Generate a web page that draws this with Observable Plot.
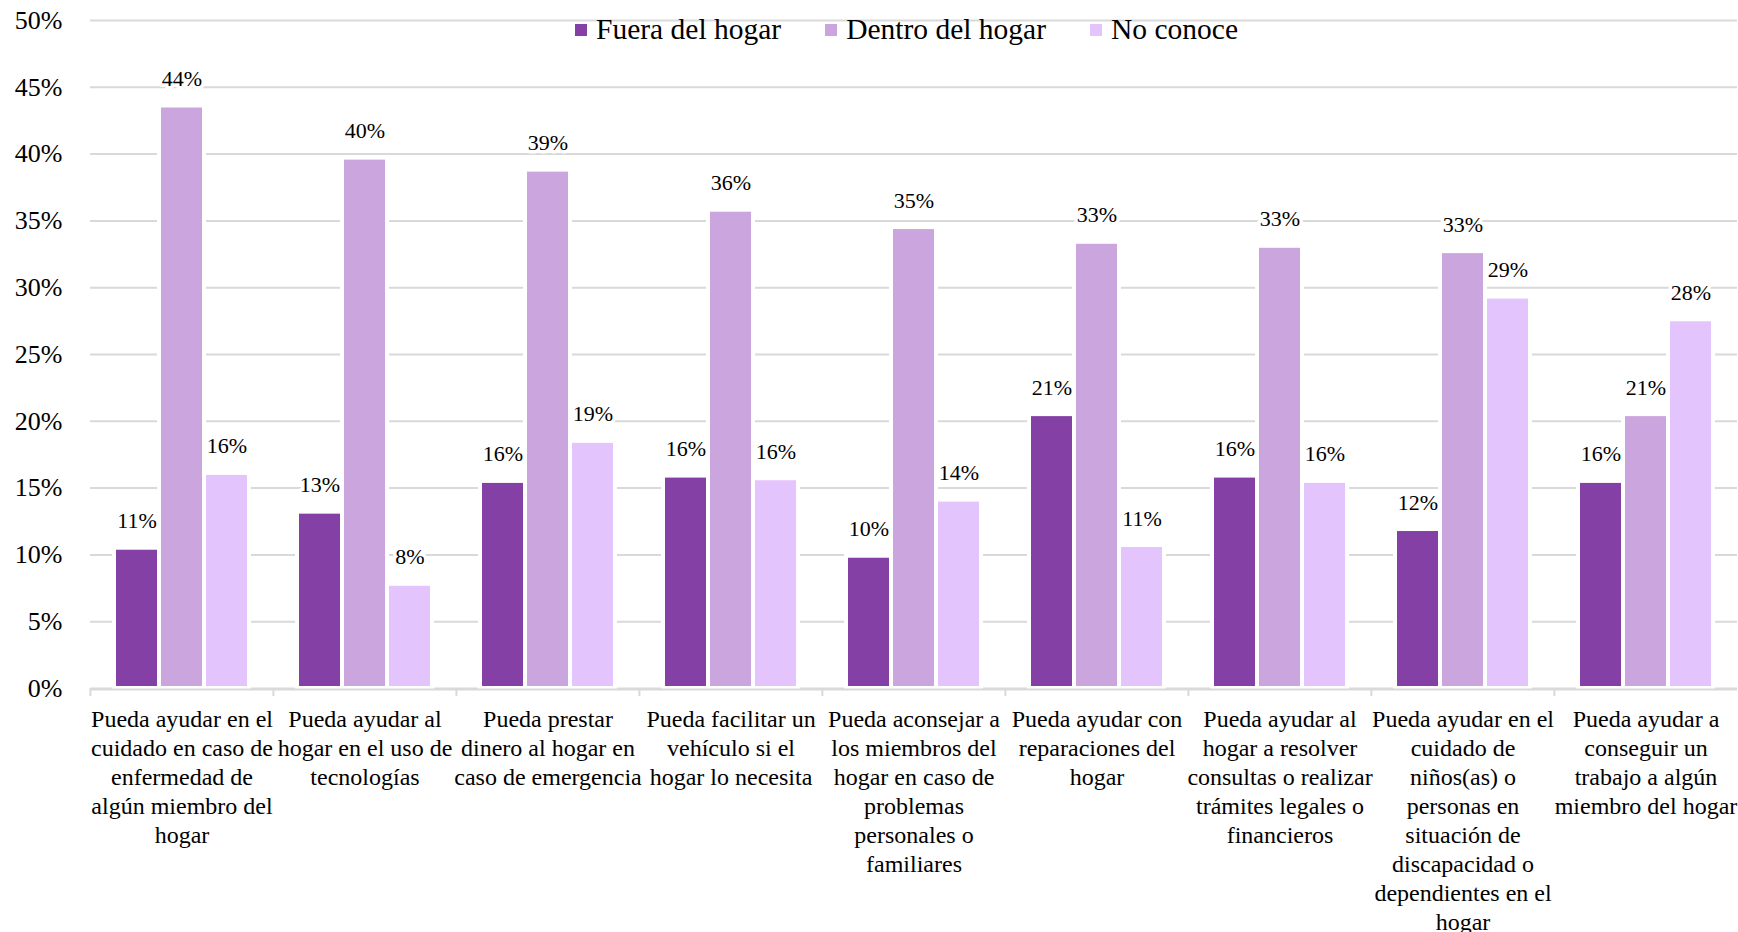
<!DOCTYPE html>
<html>
<head>
<meta charset="utf-8">
<script src="https://cdn.jsdelivr.net/npm/d3@7"></script>
<script src="https://cdn.jsdelivr.net/npm/@observablehq/plot@0.6"></script>
<style>
  html, body { margin: 0; padding: 0; background: #fff; }
  #wrap { position: relative; width: 1738px; height: 932px; overflow: hidden;
          font-family: "Palatino Linotype", Palatino, "Book Antiqua", "Liberation Serif", serif; }
  #legend { position: absolute; top: 15px; left: 75px; right: 0; display: flex; justify-content: center;
            gap: 44px; font-size: 29.5px; color: #000; line-height: 1; }
  .item { display: flex; align-items: center; gap: 9px; }
  .sw { width: 12px; height: 12px; display: inline-block; }
</style>
</head>
<body>
<div id="wrap"><div id="legend"></div></div>
<script>
// ---- data ----
const categories = [
  "Pueda ayudar en el\ncuidado en caso de\nenfermedad de\nalgún miembro del\nhogar",
  "Pueda ayudar al\nhogar en el uso de\ntecnologías",
  "Pueda prestar\ndinero al hogar en\ncaso de emergencia",
  "Pueda facilitar un\nvehículo si el\nhogar lo necesita",
  "Pueda aconsejar a\nlos miembros del\nhogar en caso de\nproblemas\npersonales o\nfamiliares",
  "Pueda ayudar con\nreparaciones del\nhogar",
  "Pueda ayudar al\nhogar a resolver\nconsultas o realizar\ntrámites legales o\nfinancieros",
  "Pueda ayudar en el\ncuidado de\nniños(as) o\npersonas en\nsituación de\ndiscapacidad o\ndependientes en el\nhogar",
  "Pueda ayudar a\nconseguir un\ntrabajo a algún\nmiembro del hogar"
];
const series = ["Fuera del hogar", "Dentro del hogar", "No conoce"];
const fuera    = [10.5, 13.2, 15.5, 15.9,  9.9, 20.5, 15.9, 11.9, 15.5];
const dentro   = [43.6, 39.7, 38.8, 35.8, 34.5, 33.4, 33.1, 32.7, 20.5];
const noConoce = [16.1,  7.8, 18.5, 15.7, 14.1, 10.7, 15.5, 29.3, 27.6];
const colors = ["#8540A5", "#CBA5DE", "#E3C4FD"];
const yTicks = [0, 5, 10, 15, 20, 25, 30, 35, 40, 45, 50];

// ---- table ----
const seriesValues = [fuera, dentro, noConoce];
const rows = categories.flatMap((c, i) =>
  series.map((s, j) => ({category: c, series: s, value: seriesValues[j][i]})));

// ---- layout ----
const W = 1738, H = 932, mL = 89, mR = 0, mT = 20, mB = 244;
const band = (W - mL - mR) / categories.length;
const FONT = '"Palatino Linotype", Palatino, "Book Antiqua", "Liberation Serif", serif';

const chart = Plot.plot({
  width: W, height: H,
  marginLeft: mL, marginRight: mR, marginTop: mT, marginBottom: mB,
  style: {fontFamily: FONT, color: "#000", background: "#fff", overflow: "visible"},
  fx: {domain: categories, padding: 0, label: null},
  x: {domain: series, paddingInner: 0, paddingOuter: 0.49, axis: null},
  y: {domain: [0, 50], label: null},
  color: {domain: series, range: colors},
  marks: [
    Plot.gridY(yTicks, {stroke: "#d9d9d9", strokeOpacity: 1, strokeWidth: 2}),
    Plot.barY(rows, {fx: "category", x: "series", y: "value", fill: "series",
                     stroke: "white", strokeWidth: 4}),
    Plot.ruleY([0], {stroke: "#d9d9d9", strokeWidth: 2, dy: 1}),
    Plot.text(rows, {fx: "category", x: "series", y: "value",
                     text: d => Math.round(d.value) + "%",
                     dy: -20, lineAnchor: "bottom", fontSize: 22, fill: "#000",
                     stroke: "white", strokeWidth: 7, strokeLinejoin: "round", paintOrder: "stroke"}),
    Plot.axisY(yTicks, {tickSize: 0, tickPadding: 28, fontSize: 26, tickFormat: d => d + "%", label: null}),
    Plot.axisFx({anchor: "bottom", tickSize: 0, tickPadding: 18, fontSize: 24, lineHeight: 1.21, label: null}),
    Plot.axisFx({anchor: "bottom", tickSize: 8, tickFormat: () => "", dx: -band / 2,
                 stroke: "#d9d9d9", strokeWidth: 2, label: null})
  ]
});

const wrap = document.getElementById("wrap");
wrap.insertBefore(chart, wrap.firstChild);

// ---- legend ----
const legend = document.getElementById("legend");
series.forEach((s, i) => {
  const item = document.createElement("div");
  item.className = "item";
  const sw = document.createElement("span");
  sw.className = "sw";
  sw.style.background = colors[i];
  const t = document.createElement("span");
  t.textContent = s;
  item.appendChild(sw);
  item.appendChild(t);
  legend.appendChild(item);
});
</script>
</body>
</html>
